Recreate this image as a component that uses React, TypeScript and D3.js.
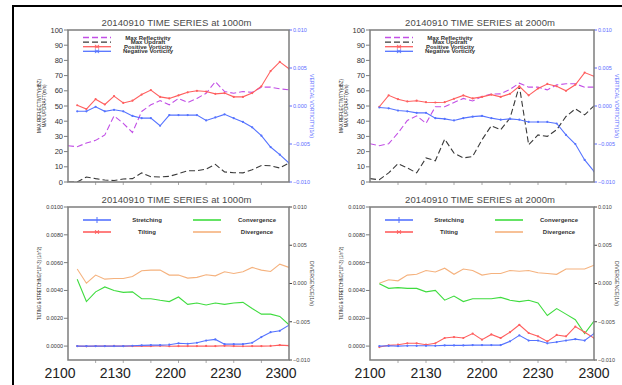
import React, { useRef, useEffect } from "react";
import * as d3 from "d3";

// minutes after 21:00 UTC
const minutesAll = [0, 5, 10, 15, 20, 25, 30, 35, 40, 45, 50, 55, 60, 65, 70, 75, 80, 85, 90, 95, 100, 105, 110, 115, 120];
const minutesFrom05 = [5, 10, 15, 20, 25, 30, 35, 40, 45, 50, 55, 60, 65, 70, 75, 80, 85, 90, 95, 100, 105, 110, 115, 120];
const hourLabels = ["2100", "2130", "2200", "2230", "2300"];
const hourLabelMinutes = [0, 30, 60, 90, 120];
const minorTickMinutes = [15, 30, 45, 60, 75, 90, 105];

// 1000 m, upper panel
const refl1000 = [23.9, 23.2, 25.6, 27.4, 31, 43.5, 38.6, 32.6, 46.4, 50.8, 53.6, 50.8, 55, 52.3, 55, 58.4, 66, 59.5, 58.4, 59.5, 59, 62.4, 62.4, 61.3, 60.6];
const updraft1000 = [0, 0, 3.3, 2.2, 1.3, 1, 2, 2.2, 6, 3.5, 3.3, 3.7, 5.5, 7.4, 7.4, 8.5, 11.6, 6.6, 6.1, 6, 8.1, 10.9, 10.7, 9.2, 12.5];
const posVort1000 = [0.0001, -0.0004, 0.0009, 0.0002, 0.0013, 0.0004, 0.0007, 0.0015, 0.0021, 0.0012, 0.001, 0.0014, 0.0018, 0.002, 0.0019, 0.0016, 0.0017, 0.0012, 0.0012, 0.0017, 0.0026, 0.0046, 0.0058, 0.0049];
const negVort1000 = [-0.0007, -0.0007, -0.0001, -0.0007, -0.0005, -0.0007, -0.0013, -0.0016, -0.0016, -0.0026, -0.0012, -0.0012, -0.0012, -0.0012, -0.0019, -0.0015, -0.0011, -0.0016, -0.0021, -0.0028, -0.0039, -0.0054, -0.0064, -0.0075];

// 2000 m, upper panel
const refl2000 = [25.2, 23.9, 25.2, 32.2, 40.5, 43.5, 38.6, 49.5, 49.5, 52.3, 55, 53.3, 56.2, 57.8, 58, 61, 65, 62.4, 62.4, 60.6, 63.9, 64.6, 64.6, 62.4, 62.4];
const updraft2000 = [2.2, 1.5, 6, 12, 9.2, 6, 15.8, 14, 28.2, 19, 15.8, 16.8, 27.8, 37, 34.4, 42, 63.2, 24.5, 31, 30, 34.4, 43.1, 48.1, 44.2, 50.1];
const posVort2000 = [-0.0001, 0.0014, 0.0009, 0.0006, 0.0007, 0.0005, 0.00046, 0.0005, 0.00094, 0.0014, 0.001, 0.0012, 0.0015, 0.0012, 0.0016, 0.0026, 0.0014, 0.0023, 0.0029, 0.0026, 0.002, 0.0028, 0.0044, 0.0039];
const negVort2000 = [-0.0002, -0.0003, -0.0006, -0.0007, -0.0009, -0.0009, -0.0016, -0.0017, -0.0019, -0.0016, -0.0014, -0.0013, -0.0016, -0.0018, -0.0017, -0.0018, -0.0021, -0.0021, -0.0021, -0.0023, -0.0038, -0.005, -0.0071, -0.0086];

// 1000 m, lower panel
const stretch1000 = [0, 0, 0, 0, 0, 0, 0.00002, 0.00005, 0.00007, 0.00007, 0.0001, 0.0002, 0.00017, 0.00024, 0.0004, 0.00048, 0.00014, 0.00014, 0.00014, 0.00024, 0.00065, 0.001, 0.0011, 0.0015];
const tilt1000 = [0, -0.00002, 0, 0, 0.00001, 0, 0, 0.00001, 0, 0.00002, -0.00001, 0, 0, 0, 0.00001, 0, 0.00002, 0, -0.00001, 0, 0, 0.00001, 0.00007, 0.00003];
const conv1000 = [0.0048, 0.0032, 0.0039, 0.00425, 0.004, 0.00386, 0.0039, 0.0034, 0.0034, 0.00329, 0.0032, 0.00353, 0.003, 0.0031, 0.00295, 0.0031, 0.003, 0.0031, 0.00314, 0.0027, 0.0023, 0.0023, 0.00213, 0.00153];
const div1000 = [0.0019, 0.00004, 0.0011, 0.00057, 0.00066, 0.00066, 0.00092, 0.00166, 0.00175, 0.00175, 0.0011, 0.0011, 0.0007, 0.0008, 0.00114, 0.001, 0.00153, 0.0013, 0.00153, 0.0021, 0.00175, 0.00157, 0.00253, 0.0021];

// 2000 m, lower panel
const stretch2000 = [0, 0.00002, 0, 0.00002, 0.00002, 0.00002, 0.00002, 0.00005, 0.00005, 0.00005, 0.00007, 0.00007, 0.00007, 0.00007, 0.00034, 0.00077, 0.0004, 0.0004, 0.0002, 0.00029, 0.0004, 0.0005, 0.0004, 0.0009];
const tilt2000 = [-0.00007, 0.00005, 0.0001, 0.0002, 0.0002, 0.0001, 0.0002, 0.00058, 0.00065, 0.00058, 0.0009, 0.00046, 0.00084, 0.00058, 0.001, 0.00153, 0.00094, 0.0007, 0.00034, 0.0008, 0.0007, 0.0014, 0.001, 0.00058];
const conv2000 = [0.00448, 0.00415, 0.0042, 0.00415, 0.00415, 0.0039, 0.004, 0.0033, 0.0036, 0.0032, 0.0034, 0.0034, 0.0034, 0.0035, 0.0033, 0.0032, 0.0033, 0.0031, 0.0022, 0.0027, 0.0023, 0.0019, 0.0009, 0.0018];
const div2000 = [0.00004, 0.00048, 0.00035, 0.0011, 0.0012, 0.0017, 0.0015, 0.002, 0.0012, 0.0019, 0.0017, 0.0011, 0.0013, 0.0013, 0.0017, 0.0016, 0.0017, 0.0014, 0.0013, 0.0012, 0.0019, 0.0019, 0.0019, 0.0024];

const upperLeftTicks = [0, 10, 20, 30, 40, 50, 60, 70, 80, 90, 100];
const lowerLeftTicks = [0, 0.002, 0.004, 0.006, 0.008, 0.01];
const rightTicks = [-0.01, -0.005, 0, 0.005, 0.01];

const FONT = "'Liberation Sans', Arial, sans-serif";
const PURPLE = "#c24fe6";
const DARK = "#3a3a3a";
const RED = "#ff5f5f";
const BLUE = "#5573ff";
const GREEN = "#3fdc3f";
const ORANGE = "#f5b27e";
const AXIS = "#7d7d7d";

type Series = {
  t: number[];
  v: number[];
  axis: "left" | "right";
  color: string;
  dash?: string;
  dots?: boolean;
};

type Legend = { name: string; color: string; dash?: string; marker?: "x" | "+" };

type Panel = {
  x0: number; x1: number; y0: number; y1: number;
  title: string;
  leftDomain: [number, number];
  leftTicks: number[];
  leftFmt: (d: number) => string;
  leftFont: number;
  rightColor: string;
  leftLabel: string[];
  leftLabelLen: number;
  rightLabel: string;
  rightLabelLen: number;
  series: Series[];
  legend: Legend[];
  legendTwoCols: boolean;
  xLabels: boolean;
  xLabelShift: number;
};

function drawPanel(svg: d3.Selection<SVGSVGElement, unknown, null, undefined>, p: Panel) {
  const g = svg.append("g");
  const x = d3.scaleLinear().domain([0, 120]).range([p.x0, p.x1]);
  const yl = d3.scaleLinear().domain(p.leftDomain).range([p.y1, p.y0]);
  const yr = d3.scaleLinear().domain([-0.01, 0.01]).range([p.y1, p.y0]);

  // title
  g.append("text")
    .attr("x", (p.x0 + p.x1) / 2 - 2)
    .attr("y", p.y0 - 4)
    .attr("text-anchor", "middle")
    .attr("font-family", FONT)
    .attr("font-size", 9.5)
    .attr("fill", "#4a4a4a")
    .attr("textLength", 150)
    .attr("lengthAdjust", "spacing")
    .text(p.title);

  // left ticks
  p.leftTicks.forEach((d) => {
    g.append("line")
      .attr("x1", p.x0 - 4).attr("x2", p.x0)
      .attr("y1", yl(d)).attr("y2", yl(d))
      .attr("stroke", AXIS).attr("stroke-width", 1);
    g.append("text")
      .attr("x", p.x0 - 5)
      .attr("y", yl(d))
      .attr("dy", "0.35em")
      .attr("text-anchor", "end")
      .attr("font-family", FONT)
      .attr("font-size", p.leftFont)
      .attr("fill", "#333")
      .text(p.leftFmt(d));
  });

  // right ticks
  rightTicks.forEach((d) => {
    g.append("line")
      .attr("x1", p.x1).attr("x2", p.x1 + 3)
      .attr("y1", yr(d)).attr("y2", yr(d))
      .attr("stroke", p.rightColor).attr("stroke-width", 1);
    g.append("text")
      .attr("x", p.x1 + 4)
      .attr("y", yr(d))
      .attr("dy", "0.35em")
      .attr("font-family", FONT)
      .attr("font-size", 5.5)
      .attr("fill", p.rightColor)
      .text(d3.format(".3f")(d).replace("-", "\u2212"));
  });

  // x ticks
  minorTickMinutes.forEach((m) => {
    g.append("line")
      .attr("x1", x(m)).attr("x2", x(m))
      .attr("y1", p.y1).attr("y2", p.y1 + 3)
      .attr("stroke", "#aaa").attr("stroke-width", 1);
  });

  // axis labels
  p.leftLabel.forEach((txt, i) => {
    const lx = p.x0 - 27 + i * 5;
    const ly = (p.y0 + p.y1) / 2;
    g.append("text")
      .attr("transform", `translate(${lx},${ly}) rotate(-90)`)
      .attr("text-anchor", "middle")
      .attr("font-family", FONT)
      .attr("font-size", 5.5)
      .attr("fill", "#222")
      .attr("textLength", i === 0 ? p.leftLabelLen : p.leftLabelLen * 0.8)
      .attr("lengthAdjust", "spacingAndGlyphs")
      .text(txt);
  });
  g.append("text")
    .attr("transform", `translate(${p.x1 + 21},${(p.y0 + p.y1) / 2}) rotate(90)`)
    .attr("text-anchor", "middle")
    .attr("font-family", FONT)
    .attr("font-size", 5.5)
    .attr("fill", p.rightColor)
    .attr("textLength", p.rightLabelLen)
    .attr("lengthAdjust", "spacingAndGlyphs")
    .text(p.rightLabel);

  // series
  const clip = `clip-${p.x0}-${p.y0}`;
  svg.append("clipPath").attr("id", clip)
    .append("rect").attr("x", p.x0).attr("y", p.y0)
    .attr("width", p.x1 - p.x0).attr("height", p.y1 - p.y0);
  const sg = g.append("g").attr("clip-path", `url(#${clip})`);
  p.series.forEach((s) => {
    const yy = s.axis === "left" ? yl : yr;
    const pts = s.t.map((t, i) => [t, s.v[i]] as [number, number]);
    const line = d3.line<[number, number]>().x((d) => x(d[0])).y((d) => yy(d[1]));
    sg.append("path")
      .attr("d", line(pts))
      .attr("fill", "none")
      .attr("stroke", s.color)
      .attr("stroke-width", 1.1)
      .attr("stroke-dasharray", s.dash || null);
    if (s.dots) {
      sg.selectAll(null)
        .data(pts)
        .enter()
        .append("circle")
        .attr("cx", (d) => x(d[0]))
        .attr("cy", (d) => yy(d[1]))
        .attr("r", 1.1)
        .attr("fill", s.color);
    }
  });

  // frame
  g.append("rect")
    .attr("x", p.x0).attr("y", p.y0)
    .attr("width", p.x1 - p.x0).attr("height", p.y1 - p.y0)
    .attr("fill", "none").attr("stroke", AXIS).attr("stroke-width", 1.5);

  // legend
  p.legend.forEach((l, i) => {
    let lx: number, ly: number, tx: number;
    if (p.legendTwoCols) {
      const col = Math.floor(i / 2);
      const row = i % 2;
      lx = p.x0 + 15 + col * 110;
      tx = p.x0 + 79 + col * 110;
      ly = p.y0 + 13 + row * 12;
    } else {
      lx = p.x0 + 15;
      tx = p.x0 + 80;
      ly = p.y0 + 7.5 + i * 4.6;
    }
    g.append("line")
      .attr("x1", lx).attr("x2", lx + 28)
      .attr("y1", ly).attr("y2", ly)
      .attr("stroke", l.color)
      .attr("stroke-width", p.legendTwoCols ? 1.6 : 1.3)
      .attr("stroke-dasharray", l.dash || null);
    const mx = lx + 14;
    if (l.marker === "x") {
      g.append("path")
        .attr("d", `M${mx - 1.6},${ly - 1.8}L${mx + 1.6},${ly + 1.8}M${mx - 1.6},${ly + 1.8}L${mx + 1.6},${ly - 1.8}M${mx - 1.6},${ly - 1.8}V${ly + 1.8}M${mx + 1.6},${ly - 1.8}V${ly + 1.8}`)
        .attr("stroke", l.color).attr("stroke-width", 0.8).attr("fill", "none");
    } else if (l.marker === "+") {
      g.append("path")
        .attr("d", `M${mx},${ly - 3}V${ly + 3}`)
        .attr("stroke", l.color).attr("stroke-width", 1).attr("fill", "none");
    }
    g.append("text")
      .attr("x", tx)
      .attr("y", ly)
      .attr("dy", "0.35em")
      .attr("text-anchor", "middle")
      .attr("font-family", FONT)
      .attr("font-size", 6)
      .attr("font-weight", "bold")
      .attr("fill", "#333")
      .text(l.name);
  });

  // big hour labels under lower panels
  if (p.xLabels) {
    hourLabelMinutes.forEach((m, i) => {
      g.append("text")
        .attr("x", x(m) + p.xLabelShift)
        .attr("y", p.y1 + 18)
        .attr("text-anchor", "middle")
        .attr("font-family", FONT)
        .attr("font-size", 14)
        .attr("fill", "#222")
        .text(hourLabels[i]);
    });
  }
}

const upperLegend: Legend[] = [
  { name: "Max Reflectivity", color: PURPLE, dash: "6,3" },
  { name: "Max Updraft", color: DARK, dash: "6,3" },
  { name: "Positive Vorticity", color: RED, marker: "x" },
  { name: "Negative Vorticity", color: BLUE, marker: "x" },
];
const lowerLegend: Legend[] = [
  { name: "Stretching", color: BLUE, marker: "+" },
  { name: "Tilting", color: RED, marker: "x" },
  { name: "Convergence", color: GREEN },
  { name: "Divergence", color: ORANGE },
];

function upper(x0: number, x1: number, height: string, refl: number[], upd: number[], pos: number[], neg: number[]): Panel {
  return {
    x0, x1, y0: 30, y1: 182,
    title: `20140910 TIME SERIES at ${height}`,
    leftDomain: [0, 100],
    leftTicks: upperLeftTicks,
    leftFmt: (d) => String(d),
    leftFont: 7.5,
    rightColor: "#5a6cff",
    leftLabel: ["MAX REFLECTIVITY(dBZ)", "MAX UPDRAFT(m/s)"],
    leftLabelLen: 54,
    rightLabel: "VERTICAL VORTICITY(1/s)",
    rightLabelLen: 64,
    series: [
      { t: minutesAll, v: refl, axis: "left", color: PURPLE, dash: "6,3" },
      { t: minutesAll, v: upd, axis: "left", color: DARK, dash: "6,3" },
      { t: minutesFrom05, v: pos, axis: "right", color: RED, dots: true },
      { t: minutesFrom05, v: neg, axis: "right", color: BLUE, dots: true },
    ],
    legend: upperLegend,
    legendTwoCols: false,
    xLabels: false,
    xLabelShift: 0,
  };
}

function lower(x0: number, x1: number, height: string, st: number[], ti: number[], co: number[], di: number[], shift: number): Panel {
  return {
    x0, x1, y0: 207, y1: 360,
    title: `20140910 TIME SERIES at ${height}`,
    leftDomain: [-0.001, 0.01],
    leftTicks: lowerLeftTicks,
    leftFmt: (d) => d3.format(".4f")(d),
    leftFont: 5.5,
    rightColor: "#444",
    leftLabel: ["TILTING & STRETCHING(*10^-3) (1/s^2)"],
    leftLabelLen: 73,
    rightLabel: "DIVERGENCE(1/s)",
    rightLabelLen: 45,
    series: [
      { t: minutesFrom05, v: di, axis: "right", color: ORANGE },
      { t: minutesFrom05, v: co, axis: "left", color: GREEN },
      { t: minutesFrom05, v: ti, axis: "left", color: RED, dots: true },
      { t: minutesFrom05, v: st, axis: "left", color: BLUE, dots: true },
    ],
    legend: lowerLegend,
    legendTwoCols: true,
    xLabels: true,
    xLabelShift: shift,
  };
}

function App() {
  const svgRef = useRef<SVGSVGElement>(null);

  useEffect(() => {
    if (!svgRef.current) return;
    const svg = d3.select(svgRef.current);
    svg.selectAll("*").remove();

    svg.append("rect").attr("width", 622).attr("height", 385).attr("fill", "#fff");

    drawPanel(svg, upper(68, 289, "1000m", refl1000, updraft1000, posVort1000, negVort1000));
    drawPanel(svg, upper(370, 594, "2000m", refl2000, updraft2000, posVort2000, negVort2000));
    drawPanel(svg, lower(68, 289, "1000m", stretch1000, tilt1000, conv1000, div1000, -8));
    drawPanel(svg, lower(370, 594, "2000m", stretch2000, tilt2000, conv2000, div2000, 0));

    // outer figure border
    svg.append("path")
      .attr("d", "M13,385V6H622")
      .attr("fill", "none")
      .attr("stroke", "#000")
      .attr("stroke-width", 2);
  }, []);

  return (
    <svg
      ref={svgRef}
      width={622}
      height={385}
      style={{ position: "absolute", left: 0, top: 0 }}
    ></svg>
  );
}

export default App;
